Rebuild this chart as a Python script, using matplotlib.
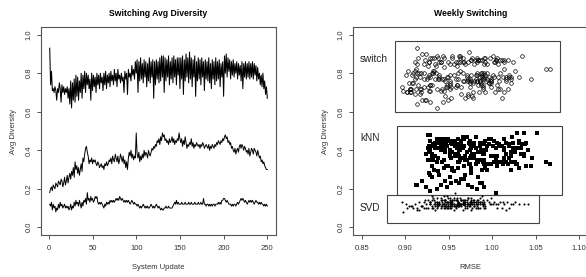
import matplotlib
matplotlib.use('Agg')
from matplotlib import pyplot as plt
from matplotlib.patches import Rectangle

# avg diversity per system update
switch_div = [
    0.93, 0.74, 0.81, 0.71, 0.72, 0.70, 0.73, 0.71, 0.66, 0.72,
    0.70, 0.75, 0.72, 0.65, 0.74, 0.70, 0.73, 0.69, 0.72, 0.70,
    0.73, 0.67, 0.72, 0.64, 0.76, 0.62, 0.75, 0.66, 0.77, 0.65,
    0.79, 0.68, 0.78, 0.66, 0.76, 0.70, 0.80, 0.67, 0.79, 0.72,
    0.81, 0.70, 0.80, 0.74, 0.79, 0.72, 0.77, 0.66, 0.80, 0.71,
    0.79, 0.73, 0.78, 0.70, 0.80, 0.74, 0.79, 0.72, 0.80, 0.75,
    0.78, 0.71, 0.80, 0.74, 0.81, 0.72, 0.79, 0.75, 0.80, 0.73,
    0.81, 0.76, 0.79, 0.74, 0.82, 0.76, 0.80, 0.73, 0.82, 0.77,
    0.79, 0.75, 0.80, 0.76, 0.78, 0.70, 0.81, 0.77, 0.80, 0.69,
    0.82, 0.78, 0.80, 0.76, 0.84, 0.79, 0.82, 0.77, 0.86, 0.80,
    0.87, 0.70, 0.86, 0.76, 0.88, 0.77, 0.85, 0.75, 0.87, 0.78,
    0.86, 0.73, 0.85, 0.76, 0.88, 0.75, 0.86, 0.78, 0.87, 0.67,
    0.86, 0.74, 0.87, 0.77, 0.86, 0.75, 0.88, 0.76, 0.89, 0.78,
    0.89, 0.70, 0.88, 0.76, 0.87, 0.78, 0.89, 0.74, 0.86, 0.77,
    0.88, 0.75, 0.89, 0.78, 0.87, 0.74, 0.88, 0.79, 0.88, 0.72,
    0.88, 0.77, 0.89, 0.69, 0.87, 0.76, 0.90, 0.78, 0.88, 0.75,
    0.91, 0.77, 0.88, 0.73, 0.87, 0.78, 0.89, 0.68, 0.86, 0.76,
    0.88, 0.77, 0.87, 0.74, 0.88, 0.78, 0.86, 0.71, 0.87, 0.77,
    0.86, 0.76, 0.88, 0.75, 0.85, 0.72, 0.87, 0.77, 0.86, 0.74,
    0.88, 0.76, 0.86, 0.77, 0.87, 0.73, 0.85, 0.78, 0.86, 0.68,
    0.89, 0.80, 0.90, 0.78, 0.88, 0.81, 0.87, 0.77, 0.86, 0.79,
    0.87, 0.78, 0.85, 0.80, 0.86, 0.77, 0.85, 0.79, 0.84, 0.76,
    0.86, 0.72, 0.85, 0.78, 0.86, 0.77, 0.85, 0.78, 0.86, 0.77,
    0.85, 0.78, 0.86, 0.77, 0.85, 0.79, 0.84, 0.76, 0.83, 0.77,
    0.80, 0.74, 0.79, 0.73, 0.80, 0.72, 0.76, 0.69, 0.73, 0.67,
]
knn_div = [
    0.18, 0.20, 0.21, 0.19, 0.22, 0.21, 0.20, 0.23, 0.22, 0.21,
    0.24, 0.23, 0.22, 0.25, 0.24, 0.21, 0.23, 0.26, 0.22, 0.24,
    0.27, 0.23, 0.26, 0.28, 0.25, 0.29, 0.27, 0.31, 0.26, 0.34,
    0.30, 0.32, 0.28, 0.31, 0.27, 0.30, 0.33, 0.29, 0.36, 0.34,
    0.38, 0.41, 0.42, 0.39, 0.37, 0.33, 0.35, 0.34, 0.36, 0.33,
    0.35, 0.34, 0.35, 0.33, 0.32, 0.34, 0.33, 0.31, 0.32, 0.33,
    0.31, 0.32, 0.30, 0.33, 0.32, 0.34, 0.32, 0.33, 0.35, 0.34,
    0.36, 0.33, 0.37, 0.35, 0.34, 0.38, 0.36, 0.34, 0.37, 0.33,
    0.35, 0.38, 0.36, 0.34, 0.37, 0.33, 0.35, 0.31, 0.34, 0.30,
    0.36, 0.39, 0.37, 0.40, 0.36, 0.38, 0.35, 0.37, 0.36, 0.49,
    0.38, 0.36, 0.39, 0.34, 0.37, 0.35, 0.38, 0.36, 0.40, 0.37,
    0.39, 0.38, 0.36, 0.40, 0.38, 0.37, 0.39, 0.41, 0.40, 0.42,
    0.41, 0.43, 0.42, 0.45, 0.44, 0.46, 0.43, 0.47, 0.45, 0.49,
    0.47, 0.48, 0.45, 0.46, 0.44, 0.45, 0.43, 0.46, 0.44, 0.45,
    0.47, 0.44, 0.46, 0.43, 0.45, 0.44, 0.46, 0.45, 0.49, 0.46,
    0.44, 0.46, 0.42, 0.45, 0.43, 0.47, 0.44, 0.41, 0.43, 0.42,
    0.44, 0.43, 0.46, 0.42, 0.44, 0.41, 0.43, 0.42, 0.44, 0.43,
    0.42, 0.43, 0.41, 0.43, 0.42, 0.44, 0.43, 0.41, 0.42, 0.43,
    0.42, 0.41, 0.43, 0.40, 0.42, 0.41, 0.43, 0.42, 0.41, 0.43,
    0.42, 0.44, 0.43, 0.45, 0.44, 0.43, 0.45, 0.44, 0.46, 0.45,
    0.47, 0.48, 0.46, 0.47, 0.44, 0.45, 0.43, 0.44, 0.41, 0.42,
    0.40, 0.39, 0.41, 0.38, 0.40, 0.41, 0.39, 0.42, 0.43, 0.41,
    0.43, 0.42, 0.40, 0.42, 0.41, 0.39, 0.40, 0.38, 0.41, 0.37,
    0.39, 0.41, 0.40, 0.38, 0.41, 0.40, 0.39, 0.37, 0.40, 0.38,
    0.36, 0.37, 0.34, 0.35, 0.33, 0.34, 0.32, 0.31, 0.30, 0.30,
]
svd_div = [
    0.12, 0.11, 0.13, 0.09, 0.12, 0.10, 0.11, 0.08, 0.10, 0.09,
    0.12, 0.10, 0.13, 0.11, 0.12, 0.10, 0.11, 0.12, 0.10, 0.11,
    0.10, 0.11, 0.09, 0.10, 0.12, 0.09, 0.11, 0.10, 0.13, 0.11,
    0.14, 0.12, 0.13, 0.11, 0.14, 0.12, 0.10, 0.13, 0.11, 0.14,
    0.13, 0.15, 0.12, 0.18, 0.14, 0.15, 0.13, 0.16, 0.14, 0.15,
    0.13, 0.14, 0.16, 0.15, 0.16, 0.13, 0.12, 0.13, 0.12, 0.13,
    0.12, 0.11, 0.10, 0.12, 0.11, 0.13, 0.12, 0.13, 0.12, 0.14,
    0.13, 0.14, 0.13, 0.14, 0.13, 0.14, 0.15, 0.14, 0.15, 0.14,
    0.16, 0.15, 0.14, 0.15, 0.14, 0.13, 0.14, 0.13, 0.14, 0.13,
    0.14, 0.13, 0.12, 0.13, 0.14, 0.13, 0.12, 0.13, 0.12, 0.12,
    0.11, 0.12, 0.11, 0.10, 0.11, 0.10, 0.11, 0.12, 0.11, 0.10,
    0.11, 0.10, 0.11, 0.10, 0.10, 0.11, 0.12, 0.11, 0.10, 0.11,
    0.10, 0.11, 0.12, 0.11, 0.10, 0.11, 0.10, 0.09, 0.10, 0.09,
    0.09, 0.10, 0.10, 0.11, 0.10, 0.10, 0.11, 0.10, 0.10, 0.10,
    0.10, 0.11, 0.12, 0.13, 0.12, 0.14, 0.12, 0.13, 0.12, 0.12,
    0.12, 0.13, 0.12, 0.12, 0.12, 0.13, 0.12, 0.12, 0.12, 0.13,
    0.12, 0.12, 0.13, 0.12, 0.12, 0.12, 0.13, 0.12, 0.12, 0.12,
    0.13, 0.12, 0.12, 0.13, 0.12, 0.12, 0.15, 0.12, 0.12, 0.11,
    0.12, 0.12, 0.11, 0.12, 0.11, 0.12, 0.11, 0.12, 0.12, 0.11,
    0.12, 0.12, 0.12, 0.13, 0.12, 0.13, 0.12, 0.14, 0.14, 0.15,
    0.15, 0.14, 0.13, 0.14, 0.13, 0.12, 0.12, 0.12, 0.11, 0.12,
    0.11, 0.12, 0.12, 0.11, 0.12, 0.13, 0.12, 0.13, 0.14, 0.15,
    0.14, 0.15, 0.14, 0.13, 0.14, 0.13, 0.12, 0.13, 0.14, 0.13,
    0.14, 0.13, 0.14, 0.13, 0.12, 0.13, 0.14, 0.13, 0.13, 0.12,
    0.13, 0.12, 0.13, 0.12, 0.12, 0.11, 0.12, 0.11, 0.12, 0.11,
]

# RMSE for each update (same order as above)
switch_rmse = [
    0.914, 0.928, 0.903, 0.941, 0.918, 0.992, 0.947, 0.898, 0.924, 0.936,
    0.902, 0.909, 1.007, 0.943, 0.931, 0.985, 0.921, 0.972, 0.906, 1.013,
    0.926, 0.969, 0.912, 0.913, 0.999, 0.937, 0.951, 0.923, 0.958, 0.929,
    0.901, 0.946, 1.016, 0.919, 0.976, 0.905, 0.932, 0.953, 0.981, 0.906,
    0.933, 1.003, 0.988, 0.948, 0.971, 0.917, 0.911, 0.949, 1.009, 0.927,
    0.908, 0.974, 0.939, 0.902, 0.991, 0.915, 0.956, 1.018, 0.935, 0.904,
    1.002, 0.945, 0.922, 0.984, 0.932, 0.907, 0.952, 0.996, 0.916, 0.964,
    0.911, 0.982, 0.927, 1.006, 1.062, 0.971, 0.909, 0.989, 1.014, 0.938,
    0.939, 0.987, 0.913, 0.951, 1.012, 0.907, 0.963, 0.925, 0.994, 0.917,
    1.066, 0.929, 0.931, 0.983, 0.959, 1.001, 0.912, 0.942, 0.992, 0.966,
    0.923, 0.978, 0.972, 1.016, 0.944, 0.991, 0.914, 0.974, 1.004, 0.948,
    0.982, 0.896, 0.921, 0.986, 0.938, 0.999, 0.968, 0.917, 0.988, 1.011,
    0.927, 0.959, 0.984, 1.021, 0.949, 0.908, 0.997, 0.979, 0.963, 1.007,
    0.943, 0.918, 0.991, 0.973, 1.009, 0.926, 0.954, 0.987, 1.024, 0.981,
    0.933, 0.996, 1.001, 0.912, 0.976, 0.951, 0.983, 1.019, 0.928, 0.989,
    1.006, 0.961, 0.936, 0.964, 1.014, 0.986, 0.919, 1.031, 0.992, 0.978,
    0.973, 0.994, 0.931, 0.998, 0.984, 0.971, 1.034, 0.972, 0.941, 1.008,
    0.966, 0.921, 1.018, 0.959, 0.977, 0.988, 1.003, 0.929, 0.986, 1.045,
    0.941, 0.993, 0.915, 1.022, 0.979, 0.952, 1.004, 0.934, 1.013, 0.989,
    0.963, 0.999, 0.927, 0.974, 1.011, 0.958, 0.991, 1.019, 0.939, 0.977,
    0.962, 0.983, 0.924, 0.996, 0.954, 1.026, 0.981, 0.944, 1.002, 0.988,
    0.976, 0.949, 1.007, 0.918, 0.961, 1.016, 0.969, 0.992, 0.935, 0.946,
    0.966, 1.009, 0.956, 0.986, 0.911, 0.939, 0.994, 1.021, 0.958, 0.972,
    0.934, 0.991, 0.963, 0.999, 0.951, 0.982, 0.926, 0.968, 0.944, 0.988,
    0.961, 0.929, 0.976, 0.953, 0.987, 0.942, 0.966, 0.911, 0.948, 0.978,
]
knn_rmse = [
    1.004, 0.936, 0.977, 0.929, 0.914, 0.924, 0.982, 0.953, 0.941, 0.991,
    0.946, 0.962, 0.912, 0.967, 0.919, 0.948, 0.986, 0.931, 0.972, 0.958,
    0.939, 0.988, 0.951, 0.927, 0.964, 0.956, 0.969, 0.944, 0.984, 0.961,
    0.933, 0.949, 0.976, 0.992, 0.928, 0.954, 0.973, 0.938, 0.966, 1.002,
    0.979, 0.934, 0.943, 1.021, 0.957, 1.012, 0.926, 0.989, 0.974, 1.029,
    0.963, 1.007, 0.932, 1.018, 0.968, 0.942, 0.996, 0.961, 1.039, 0.981,
    0.954, 1.006, 0.976, 0.991, 0.931, 1.016, 0.947, 1.027, 0.983, 1.062,
    0.938, 0.974, 0.999, 0.929, 0.989, 1.033, 0.979, 1.021, 0.951, 1.066,
    0.971, 0.924, 0.953, 1.011, 0.962, 0.994, 0.944, 1.031, 0.936, 0.988,
    0.964, 0.927, 1.001, 1.024, 1.046, 0.961, 0.986, 0.934, 1.014, 1.051,
    0.957, 0.931, 0.946, 1.026, 0.969, 0.991, 1.036, 1.004, 0.941, 0.976,
    0.928, 0.951, 1.019, 0.963, 0.931, 0.998, 0.954, 1.032, 0.989, 0.944,
    0.926, 0.974, 1.009, 0.936, 0.986, 0.948, 1.019, 0.966, 0.939, 1.037,
    0.981, 0.929, 1.002, 0.943, 0.957, 0.992, 0.932, 0.967, 1.016, 0.952,
    0.968, 1.024, 0.941, 1.034, 0.928, 0.953, 0.996, 0.974, 1.029, 0.937,
    1.006, 0.949, 0.979, 0.942, 1.038, 0.971, 0.934, 0.962, 0.959, 0.986,
    0.973, 0.932, 1.013, 1.001, 0.939, 0.966, 0.991, 0.927, 1.031, 0.962,
    1.011, 0.944, 0.976, 0.934, 0.948, 0.987, 0.954, 1.024, 0.941, 0.964,
    0.994, 0.929, 1.035, 1.013, 0.958, 0.936, 0.989, 0.968, 1.004, 0.946,
    0.931, 0.979, 0.946, 0.956, 0.974, 0.991, 0.952, 1.039, 0.961, 1.031,
    0.969, 0.926, 0.998, 1.023, 0.986, 0.964, 0.996, 0.947, 1.014, 1.019,
    0.951, 0.988, 1.029, 0.977, 1.041, 0.944, 0.984, 0.933, 1.008, 0.959,
    0.941, 0.966, 0.993, 0.957, 0.981, 1.026, 0.962, 0.989, 0.936, 1.006,
    0.971, 1.033, 0.987, 1.016, 0.946, 0.974, 0.928, 1.036, 0.952, 0.991,
    0.979, 1.021, 0.962, 0.969, 0.999, 0.984, 1.044, 0.976, 1.021, 0.994,
]
svd_rmse = [
    0.901, 0.918, 0.896, 0.934, 0.911, 0.946, 0.904, 0.897, 0.926, 0.914,
    0.939, 0.931, 0.953, 0.907, 0.964, 0.921, 0.949, 0.936, 0.909, 0.958,
    0.924, 0.944, 0.916, 0.971, 0.929, 0.956, 0.941, 0.902, 0.966, 0.919,
    0.951, 0.933, 0.974, 0.947, 0.923, 0.961, 0.913, 0.979, 0.938, 0.954,
    0.928, 0.963, 0.943, 0.957, 0.969, 0.937, 0.984, 0.948, 0.926, 0.959,
    0.976, 0.942, 0.988, 0.952, 0.931, 0.967, 0.944, 0.981, 0.962, 0.934,
    0.972, 0.949, 0.986, 0.939, 0.974, 0.953, 0.966, 0.929, 0.991, 0.946,
    0.961, 0.979, 0.936, 0.968, 0.951, 0.994, 0.941, 0.964, 0.956, 0.983,
    0.944, 0.976, 0.959, 0.932, 0.989, 0.948, 0.971, 0.942, 0.978, 0.954,
    0.966, 0.937, 0.999, 0.961, 0.946, 0.974, 0.953, 0.986, 0.939, 0.969,
    0.951, 0.963, 0.931, 0.981, 0.958, 0.992, 0.947, 0.972, 0.956, 1.006,
    0.934, 0.977, 0.961, 0.949, 0.984, 0.942, 0.968, 0.954, 1.011, 0.964,
    0.944, 0.982, 0.959, 0.989, 0.951, 0.971, 0.936, 1.016, 0.953, 0.976,
    0.966, 0.941, 0.984, 0.962, 1.019, 0.948, 0.973, 0.932, 0.991, 0.958,
    0.969, 0.957, 1.001, 0.946, 0.979, 0.964, 1.024, 0.952, 0.974, 0.961,
    0.988, 0.939, 0.971, 1.031, 0.954, 0.981, 0.967, 0.944, 1.004, 0.976,
    0.959, 0.986, 0.951, 1.041, 0.968, 0.956, 0.996, 0.938, 0.982, 0.963,
    1.009, 0.949, 0.977, 0.961, 0.989, 0.934, 0.972, 1.036, 0.954, 0.979,
    0.966, 1.014, 0.946, 0.974, 0.958, 0.997, 0.952, 0.984, 1.021, 0.969,
    0.942, 0.981, 0.962, 1.002, 0.956, 0.991, 0.964, 0.931, 0.976, 0.949,
    0.986, 0.959, 1.026, 0.944, 0.971, 0.953, 0.989, 0.936, 0.979, 1.007,
    0.961, 0.974, 0.947, 0.992, 0.951, 1.017, 0.966, 0.929, 0.984, 0.972,
    0.954, 0.999, 0.941, 0.976, 0.958, 0.921, 0.991, 0.949, 0.964, 1.012,
    0.933, 0.978, 0.956, 0.969, 0.924, 0.988, 0.946, 0.961, 0.916, 0.974,
    0.948, 0.928, 0.986, 0.939, 0.963, 0.908, 0.953, 0.919, 0.977, 0.936,
]

updates = list(range(1, len(switch_div) + 1))

# group boxes on the right panel: name, (rmse lo, rmse hi), (div lo, div hi)
groups = ['switch', 'kNN', 'SVD']
box_rmse = [(0.888, 1.078), (0.890, 1.080), (0.8785, 1.054)]
box_div = [(0.598, 0.967), (0.169, 0.528), (0.023, 0.166)]
label_div = [0.873, 0.462, 0.100]

div_ticks = [0.0, 0.2, 0.4, 0.6, 0.8, 1.0]
update_ticks = [0, 50, 100, 150, 200, 250]
rmse_ticks = [0.85, 0.90, 0.95, 1.00, 1.05, 1.10]

plt.rcParams['font.family'] = ['Liberation Sans', 'DejaVu Sans']
frame = '#555555'
txt = '#333333'


def style(ax):
    for s in ax.spines.values():
        s.set_color(frame)
        s.set_linewidth(0.8)
    ax.tick_params(direction='out', length=3, width=0.7, color=frame,
                   labelsize=5.5, labelcolor=txt)
    ax.tick_params(axis='x', pad=4)
    ax.tick_params(axis='y', pad=3)
    ax.set_ylim(-0.04, 1.04)
    ax.set_yticks(div_ticks)
    ax.set_yticklabels(['%.1f' % t for t in div_ticks], rotation=90, va='center')
    ax.set_ylabel('Avg Diversity', fontsize=5.5, color=txt, labelpad=6)


fig = plt.figure(figsize=(5.86, 2.77), dpi=100)

ax1 = fig.add_axes([0.070, 0.1516, 0.401, 0.7509])
ax1.plot(updates, switch_div, color='black', lw=0.75)
ax1.plot(updates, knn_div, color='black', lw=0.7)
ax1.plot(updates, svd_div, color='black', lw=0.7)
ax1.set_xlim(-8.96, 259.96)
ax1.set_xticks(update_ticks)
style(ax1)
ax1.set_xlabel('System Update', fontsize=5.5, color=txt, labelpad=9)
ax1.set_title('Switching Avg Diversity', fontsize=6.2, fontweight='bold', pad=8)

ax2 = fig.add_axes([0.6024, 0.1516, 0.401, 0.7509])
ax2.plot(switch_rmse, switch_div, 'o', mfc='none', mec='black', ms=2.6, mew=0.5)
ax2.plot(knn_rmse, knn_div, 's', color='black', ms=2.3, mew=0)
ax2.plot(svd_rmse, svd_div, 'o', color='black', ms=1.5, mew=0)
for name, (x0, x1), (y0, y1), ly in zip(groups, box_rmse, box_div, label_div):
    ax2.add_patch(Rectangle((x0, y0), x1 - x0, y1 - y0, fill=False,
                            edgecolor='#444444', lw=0.8))
    ax2.text(0.848, ly, name, fontsize=7.2, color='#222222', va='center', ha='left')
ax2.set_xlim(0.84, 1.11)
ax2.set_xticks(rmse_ticks)
ax2.set_xticklabels(['%.2f' % t for t in rmse_ticks])
style(ax2)
ax2.set_xlabel('RMSE', fontsize=5.5, color=txt, labelpad=9)
ax2.set_title('Weekly Switching', fontsize=6.2, fontweight='bold', pad=8)

fig.savefig('out.png', dpi=100)
